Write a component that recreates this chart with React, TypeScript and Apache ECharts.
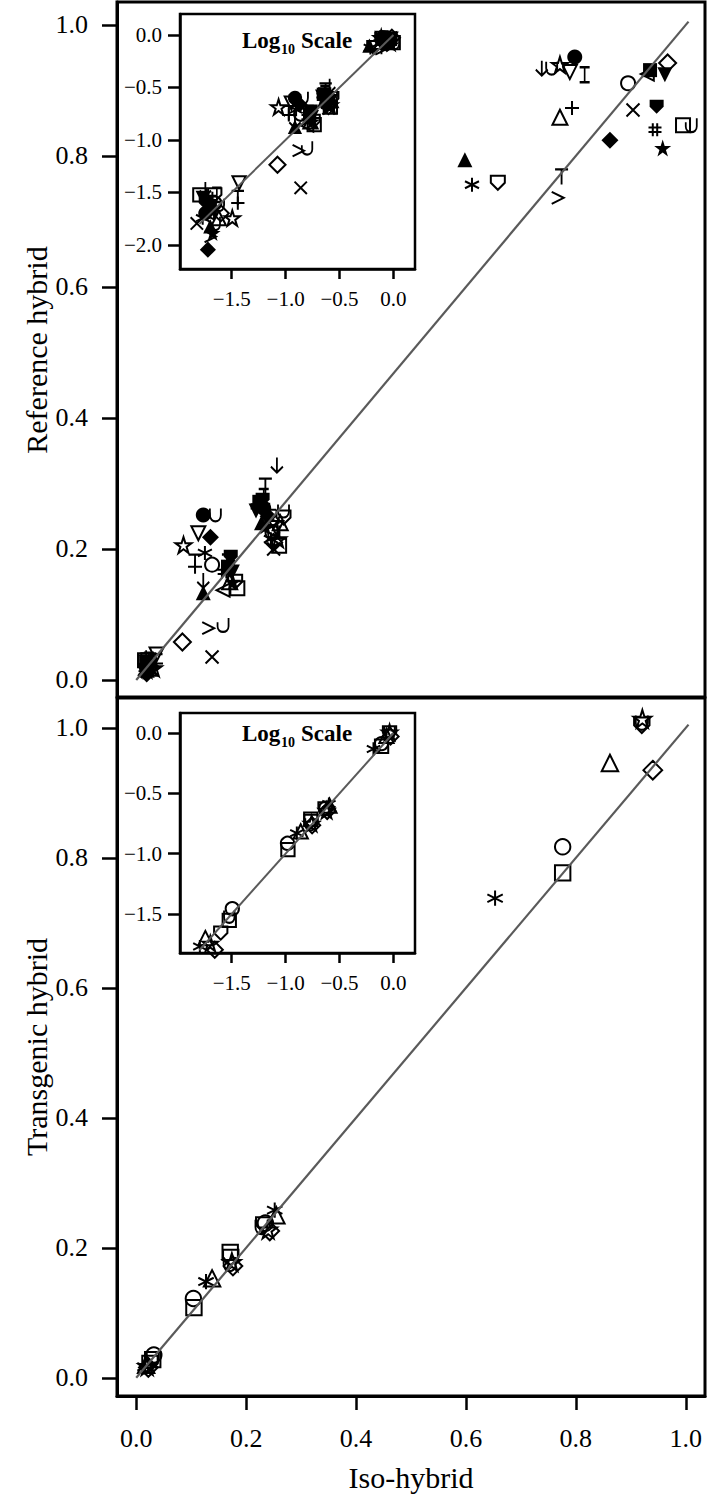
import React, { useEffect, useRef } from 'react';
import * as echarts from 'echarts';

// ---------- DATA ----------
const GROUPS_1 = [
  'filledCircle', 'openCircle', 'filledSquare', 'openSquare', 'filledTriangle', 'openTriangle',
  'filledInvTriangle', 'openInvTriangle', 'filledDiamond', 'openDiamond', 'filledStar', 'openStar',
  'filledShield', 'openShield', 'cross', 'plus', 'asterisk', 'hash', 'downArrow', 'iBeam', 'tee',
  'greater', 'cup', 'hook', 'leftTriangle',
];
const P1_LOW: [number, number][] = [
  [0.018, 0.020], [0.022, 0.025], [0.020, 0.022], [0.016, 0.030], [0.020, 0.015], [0.024, 0.018],
  [0.017, 0.028], [0.037, 0.039], [0.019, 0.009], [0.025, 0.020], [0.021, 0.013], [0.032, 0.018],
  [0.018, 0.025], [0.022, 0.030], [0.015, 0.016], [0.036, 0.025], [0.017, 0.018], [0.020, 0.028],
  [0.018, 0.034], [0.023, 0.030], [0.036, 0.028], [0.020, 0.012], [0.024, 0.024], [0.022, 0.016], [0.019, 0.020],
];
const P1_MID_A: [number, number][] = [
  [0.122, 0.252], [0.138, 0.176], [0.167, 0.173], [0.184, 0.140], [0.122, 0.133], [0.170, 0.150],
  [0.175, 0.165], [0.113, 0.224], [0.135, 0.218], [0.084, 0.058], [0.176, 0.150], [0.086, 0.206],
  [0.172, 0.188], [0.180, 0.150], [0.138, 0.035], [0.107, 0.173], [0.125, 0.194], [0.160, 0.165],
  [0.122, 0.152], [0.165, 0.180], [0.107, 0.180], [0.131, 0.079], [0.144, 0.252], [0.158, 0.084], [0.158, 0.137],
];
const P1_MID_B: [number, number][] = [
  [0.232, 0.262], [0.248, 0.225], [0.224, 0.272], [0.260, 0.205], [0.228, 0.240], [0.262, 0.240],
  [0.218, 0.258], [0.255, 0.232], [0.240, 0.250], [0.250, 0.210], [0.235, 0.235], [0.258, 0.215],
  [0.230, 0.275], [0.268, 0.248], [0.250, 0.200], [0.242, 0.260], [0.245, 0.215], [0.220, 0.265],
  [0.256, 0.328], [0.232, 0.280], [0.235, 0.296], [0.248, 0.240], [0.268, 0.258], [0.250, 0.225], [0.245, 0.228],
];
const P1_HIGH: [number, number][] = [
  [0.798, 0.951], [0.895, 0.911], [0.935, 0.931], [0.995, 0.847], [0.598, 0.794], [0.771, 0.859],
  [0.962, 0.924], [0.789, 0.928], [0.862, 0.824], [0.967, 0.942], [0.958, 0.812], [0.771, 0.939],
  [0.947, 0.875], [0.658, 0.759], [0.904, 0.870], [0.793, 0.873], [0.611, 0.756], [0.944, 0.840],
  [0.738, 0.934], [0.816, 0.924], [0.774, 0.768], [0.767, 0.736], [0.756, 0.934], [1.010, 0.847], [0.930, 0.925],
];

const GROUPS_2 = ['openStar', 'openShield', 'cup', 'openTriangle', 'openDiamond', 'openCircle', 'openSquare', 'asterisk'];
const P2_LOW: [number, number][] = [
  [0.020, 0.018], [0.025, 0.022], [0.030, 0.030], [0.018, 0.020], [0.022, 0.016], [0.032, 0.035], [0.030, 0.028], [0.016, 0.017],
];
const P2_MID_A: [number, number][] = [
  [0.174, 0.178], [0.172, 0.185], [0.170, 0.175], [0.138, 0.153], [0.176, 0.172], [0.104, 0.122], [0.105, 0.108], [0.127, 0.148],
];
const P2_MID_B: [number, number][] = [
  [0.240, 0.228], [0.232, 0.235], [0.228, 0.232], [0.255, 0.250], [0.243, 0.226], [0.235, 0.238], [0.171, 0.193], [0.252, 0.258],
];
const P2_HIGH: [number, number][] = [
  [0.921, 1.014], [0.920, 1.004], [0.920, 1.008], [0.862, 0.946], [0.940, 0.935], [0.776, 0.817], [0.776, 0.777], [0.653, 0.738],
];

const FIT_LINE: [number, number][] = [[0, 0], [1.005, 1.005]];
const LOG_FIT_LINE: [number, number][] = [[-1.8, -1.8], [0, 0]];
const MAIN_TICKS = [0, 0.2, 0.4, 0.6, 0.8, 1.0];
const LOG_X_TICKS = [-1.5, -1.0, -0.5, 0.0];
const LOG_Y_TICKS_1 = [-2.0, -1.5, -1.0, -0.5, 0.0];
const LOG_Y_TICKS_2 = [-1.5, -1.0, -0.5, 0.0];

// ---------- SYMBOLS ----------
const STAR = 'path://M5 0L6.12 3.455L9.755 3.455L6.82 5.59L7.94 9.045L5 6.91L2.06 9.045L3.18 5.59L0.245 3.455L3.88 3.455Z';
const INV_TRI = 'path://M0 0L10 0L5 9Z';
const SHIELD = 'path://M0 0L10 0L10 5L5 10L0 5Z';
type SymDef = { s: string; fill: boolean; size: number | [number, number] };
const SYMBOLS: Record<string, SymDef> = {
  filledCircle: { s: 'circle', fill: true, size: 15 },
  openCircle: { s: 'circle', fill: false, size: 14 },
  filledSquare: { s: 'rect', fill: true, size: 14 },
  openSquare: { s: 'rect', fill: false, size: 14 },
  filledTriangle: { s: 'triangle', fill: true, size: 15 },
  openTriangle: { s: 'triangle', fill: false, size: 15 },
  filledInvTriangle: { s: INV_TRI, fill: true, size: 15 },
  openInvTriangle: { s: INV_TRI, fill: false, size: 14 },
  filledDiamond: { s: 'diamond', fill: true, size: 17 },
  openDiamond: { s: 'diamond', fill: false, size: 17 },
  filledStar: { s: STAR, fill: true, size: 17 },
  openStar: { s: STAR, fill: false, size: 16 },
  filledShield: { s: SHIELD, fill: true, size: 14 },
  openShield: { s: SHIELD, fill: false, size: 14 },
  cross: { s: 'path://M0 0L10 10M10 0L0 10', fill: false, size: 13 },
  plus: { s: 'path://M5 0L5 10M0 5L10 5', fill: false, size: 14 },
  asterisk: { s: 'path://M5 0L5 10M0.67 2.5L9.33 7.5M9.33 2.5L0.67 7.5', fill: false, size: 14 },
  hash: { s: 'path://M3.3 0L3.3 10M6.7 0L6.7 10M0 3.3L10 3.3M0 6.7L10 6.7', fill: false, size: 13 },
  downArrow: { s: 'path://M5 0L5 10M1 6L5 10L9 6', fill: false, size: [12, 15] },
  iBeam: { s: 'path://M0 0L8 0M4 0L4 12M0 12L8 12', fill: false, size: [10, 15] },
  tee: { s: 'path://M0 0L10 0M5 0L5 12', fill: false, size: [13, 15] },
  greater: { s: 'path://M0 0L10 4.5L0 9', fill: false, size: [12, 12] },
  cup: { s: 'path://M0 0L0 5C0 11.7 10 11.7 10 5L10 0', fill: false, size: [11, 13] },
  hook: { s: 'path://M10 0L10 6C10 11.3 0 11.3 0 6L0 3', fill: false, size: [11, 14] },
  leftTriangle: { s: 'path://M10 0L10 10L0 5Z', fill: false, size: 13 },
};

const FONT = 'Liberation Serif';

function scatter(name: string, pts: [number, number][], axis: number, scale: number, log: boolean) {
  const d = SYMBOLS[name];
  const size = Array.isArray(d.size) ? [d.size[0] * scale, d.size[1] * scale] : d.size * scale;
  return {
    type: 'scatter',
    xAxisIndex: axis,
    yAxisIndex: axis,
    z: 3,
    silent: true,
    data: log ? pts.map(([x, y]) => [Math.log10(x), Math.log10(y)]) : pts,
    symbol: d.s,
    symbolSize: size,
    itemStyle: d.fill
      ? { color: '#000', borderColor: '#000', borderWidth: 0, opacity: 1 }
      : { color: 'rgba(0,0,0,0)', borderColor: '#000', borderWidth: 2, opacity: 1 },
  };
}

function fitLine(data: [number, number][], axis: number, width: number) {
  return {
    type: 'line', xAxisIndex: axis, yAxisIndex: axis, z: 6, silent: true,
    data, symbol: 'none', lineStyle: { color: '#5a5a5a', width },
  };
}

const mainFmt = (v: number) => v.toFixed(1);
const logFmt = (v: number) => (v < 0 ? '\u2212' : '') + Math.abs(v).toFixed(1);

function valueAxis(grid: number, min: number, max: number, ticks: number[] | null, opts: any) {
  return {
    type: 'value', gridIndex: grid, min, max, splitLine: { show: false },
    axisLine: { show: ticks !== null, onZero: false, lineStyle: { color: '#000', width: opts.lineW || 3 } },
    axisTick: ticks
      ? { show: true, inside: false, length: opts.tickLen, customValues: ticks, lineStyle: { color: '#000', width: 2.5 } }
      : { show: false },
    axisLabel: ticks
      ? {
          show: true, customValues: ticks, formatter: opts.fmt, margin: opts.margin,
          fontSize: opts.fontSize, fontFamily: FONT, color: '#000',
        }
      : { show: false },
  };
}

export default function App() {
  const ref = useRef<HTMLDivElement>(null);
  useEffect(() => {
    document.body.style.margin = '0';
    const chart = echarts.init(ref.current!, undefined, { renderer: 'svg' });
    const series: any[] = [];
    GROUPS_1.forEach((g, i) => {
      const pts = [P1_LOW[i], P1_MID_A[i], P1_MID_B[i], P1_HIGH[i]];
      series.push(scatter(g, pts, 0, 1, false));
      series.push(scatter(g, pts, 1, 0.95, true));
    });
    GROUPS_2.forEach((g, i) => {
      const pts = [P2_LOW[i], P2_MID_A[i], P2_MID_B[i], P2_HIGH[i]];
      series.push(scatter(g, pts, 2, 1.1, false));
      series.push(scatter(g, pts, 3, 0.95, true));
    });
    series.push(fitLine(FIT_LINE, 0, 2.2));
    series.push(fitLine(LOG_FIT_LINE, 1, 2));
    series.push(fitLine(FIT_LINE, 2, 2.2));
    series.push(fitLine(LOG_FIT_LINE, 3, 2));

    const gridBase = { show: true, borderColor: '#000', containLabel: false, outerBoundsMode: 'none' };
    const logTitle = (y: number) => [
      { type: 'text', x: 242, y, z: 10, style: { text: 'Log', font: `bold 23px "${FONT}"`, fill: '#000', textVerticalAlign: 'middle' } },
      { type: 'text', x: 281, y: y + 9, z: 10, style: { text: '10', font: `bold 14px "${FONT}"`, fill: '#000', textVerticalAlign: 'middle' } },
      { type: 'text', x: 301, y, z: 10, style: { text: 'Scale', font: `bold 23px "${FONT}"`, fill: '#000', textVerticalAlign: 'middle' } },
    ];

    chart.setOption({
      animation: false,
      textStyle: { fontFamily: FONT, color: '#000' },
      grid: [
        { ...gridBase, left: 117, top: 2, width: 588, height: 695, borderWidth: 3, backgroundColor: 'rgba(0,0,0,0)' },
        { ...gridBase, left: 180, top: 14, width: 235, height: 255, borderWidth: 2.5, backgroundColor: '#fff' },
        { ...gridBase, left: 117, top: 698, width: 588, height: 698, borderWidth: 3, backgroundColor: 'rgba(0,0,0,0)' },
        { ...gridBase, left: 180, top: 713, width: 235, height: 240, borderWidth: 2.5, backgroundColor: '#fff' },
      ],
      xAxis: [
        valueAxis(0, -0.035, 1.035, null, {}),
        valueAxis(1, -1.98, 0.2, LOG_X_TICKS, { tickLen: 10, margin: 19, fontSize: 21, fmt: logFmt, lineW: 2.5 }),
        valueAxis(2, -0.035, 1.035, MAIN_TICKS, { tickLen: 14, margin: 29, fontSize: 26, fmt: mainFmt }),
        valueAxis(3, -1.98, 0.2, LOG_X_TICKS, { tickLen: 10, margin: 19, fontSize: 21, fmt: logFmt, lineW: 2.5 }),
      ],
      yAxis: [
        valueAxis(0, -0.026, 1.035, MAIN_TICKS, { tickLen: 15, margin: 29, fontSize: 26, fmt: mainFmt }),
        valueAxis(1, -2.23, 0.2, LOG_Y_TICKS_1, { tickLen: 12, margin: 18, fontSize: 21, fmt: logFmt, lineW: 2.5 }),
        valueAxis(2, -0.028, 1.046, MAIN_TICKS, { tickLen: 15, margin: 29, fontSize: 26, fmt: mainFmt }),
        valueAxis(3, -1.823, 0.166, LOG_Y_TICKS_2, { tickLen: 12, margin: 18, fontSize: 21, fmt: logFmt, lineW: 2.5 }),
      ],
      series,
      graphic: [
        {
          type: 'text', x: 36, y: 350, rotation: Math.PI / 2, z: 10,
          style: { text: 'Reference hybrid', font: `30px "${FONT}"`, fill: '#000', textAlign: 'center', textVerticalAlign: 'middle' },
        },
        {
          type: 'text', x: 36, y: 1047, rotation: Math.PI / 2, z: 10,
          style: { text: 'Transgenic hybrid', font: `30px "${FONT}"`, fill: '#000', textAlign: 'center', textVerticalAlign: 'middle' },
        },
        {
          type: 'text', x: 411, y: 1477, z: 10,
          style: { text: 'Iso-hybrid', font: `30px "${FONT}"`, fill: '#000', textAlign: 'center', textVerticalAlign: 'middle' },
        },
        ...logTitle(40),
        ...logTitle(733),
      ],
    });
    return () => chart.dispose();
  }, []);
  return <div ref={ref} style={{ width: 709, height: 1495 }} />;
}
